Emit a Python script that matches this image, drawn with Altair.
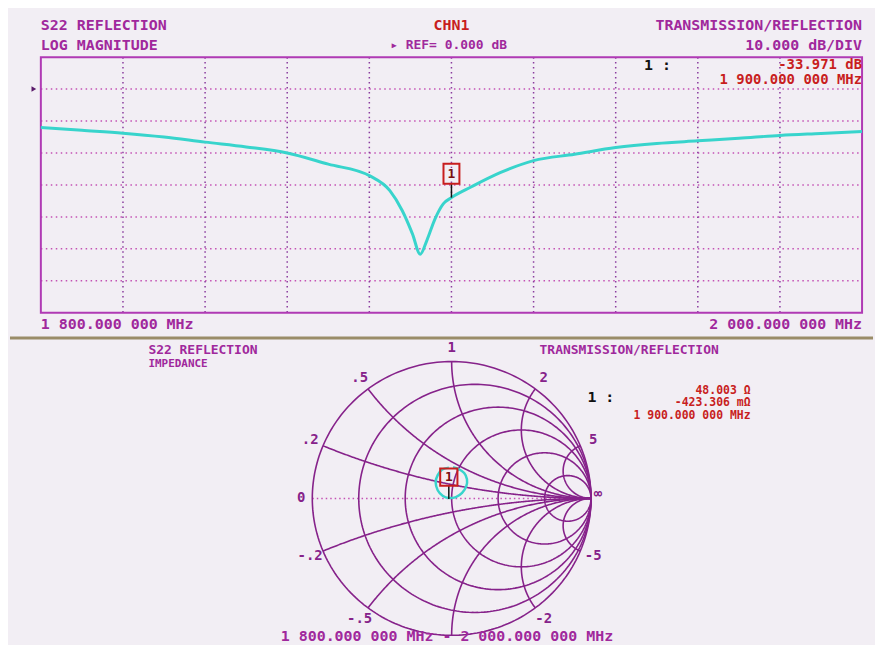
import altair as alt
import numpy as np
import pandas as pd

# ---------------- data ----------------
freq_mhz = [1800, 1810, 1820, 1830, 1840, 1850, 1860, 1870, 1880, 1885, 1888,
            1890.5, 1892.4, 1894, 1896, 1898, 1900, 1905, 1912, 1920, 1930,
            1940, 1950, 1960, 1970, 1980, 1990, 2000]
s22_db = [-12.0, -12.9, -13.8, -15.0, -16.6, -18.1, -20.0, -23.5, -27.1, -31.8,
          -38.0, -45.3, -51.7, -47.4, -40.6, -35.9, -33.971, -30.5, -26.1, -22.4,
          -20.4, -18.3, -17.0, -16.2, -15.4, -14.5, -13.9, -13.3]
marker_freq = [1900.0]
marker_db = [-33.971]

grid_freq = [1820, 1840, 1860, 1880, 1900, 1920, 1940, 1960, 1980]
grid_db = [0, -10, -20, -30, -40, -50, -60]
frame_freq = [1800, 2000]
frame_db = [10, -70]

# Smith chart trace (reflection coefficient, real / imag)
smith_re = [-0.02, -0.07, -0.10, -0.115, -0.10, -0.065, -0.02, 0.03, 0.075,
            0.105, 0.11, 0.09, 0.05, 0.01]
smith_im = [0.225, 0.21, 0.17, 0.12, 0.06, 0.02, 0.003, 0.01, 0.04,
            0.09, 0.14, 0.185, 0.215, 0.228]
marker_g_re = [-0.0204]
marker_g_im = [-0.0043]

r_circles = [0, 0.2, 0.5, 1, 2, 5]
x_arcs = [0.2, 0.5, 1, 2, 5, -0.2, -0.5, -1, -2, -5]
x_label_vals = [0.2, 0.5, 1, 2, 5, -0.2, -0.5, -2, -5]
x_label_txt = [".2", ".5", "1", "2", "5", "-.2", "-.5", "-2", "-5"]

# ---------------- styling ----------------
BG = "#f2eef4"
PURPLE = "#a0289c"
GRID_V = "#8a3c9e"
GRID_H = "#c452b4"
FRAME = "#b03ab4"
SMITH = "#86228a"
CYAN = "#38d4cc"
RED = "#c81e1e"
SEP = "#9a8c68"
FONT = "DejaVu Sans Mono"

W = 867
H1 = 326
H2 = 311

X1 = alt.Scale(domain=[1792.485, 2002.667], nice=False, zero=False)
Y1 = alt.Scale(domain=[-76.64, 24.92], nice=False, zero=False)
X2 = alt.Scale(domain=[-3.1693, 3.0236], nice=False, zero=False)
Y2 = alt.Scale(domain=[-1.0604, 1.2015], nice=False, zero=False)


def enc1(xf="x", yf="y", **kw):
    return dict(x=alt.X(f"{xf}:Q", scale=X1, axis=None),
                y=alt.Y(f"{yf}:Q", scale=Y1, axis=None), **kw)


def enc2(xf="x", yf="y", **kw):
    return dict(x=alt.X(f"{xf}:Q", scale=X2, axis=None),
                y=alt.Y(f"{yf}:Q", scale=Y2, axis=None), **kw)


def text1(rows, align, color, size=15, weight="bold"):
    df = pd.DataFrame(rows, columns=["x", "y", "t"])
    return alt.Chart(df).mark_text(align=align, baseline="middle", font=FONT,
                                   fontSize=size, fontWeight=weight, color=color).encode(
        **enc1(text="t:N"))


def text2(rows, align, color, size=15, weight="bold"):
    df = pd.DataFrame(rows, columns=["x", "y", "t"])
    return alt.Chart(df).mark_text(align=align, baseline="middle", font=FONT,
                                   fontSize=size, fontWeight=weight, color=color).encode(
        **enc2(text="t:N"))


# ---------------- top panel: log magnitude ----------------
frame = alt.Chart(pd.DataFrame({"x": [frame_freq[0]], "x2": [frame_freq[1]],
                                "y": [frame_db[0]], "y2": [frame_db[1]]})).mark_rect(
    fillOpacity=0, stroke=FRAME, strokeWidth=2).encode(
    **enc1(), x2="x2:Q", y2="y2:Q")

vgrid = alt.Chart(pd.DataFrame({"x": grid_freq, "y": frame_db[0], "y2": frame_db[1]})).mark_rule(
    color=GRID_V, strokeWidth=1.5, strokeDash=[1.5, 3.5]).encode(**enc1(), y2="y2:Q")
hgrid = alt.Chart(pd.DataFrame({"y": grid_db, "x": frame_freq[0], "x2": frame_freq[1]})).mark_rule(
    color=GRID_H, strokeWidth=1.5, strokeDash=[1.5, 3.5]).encode(**enc1(), x2="x2:Q")

trace = alt.Chart(pd.DataFrame({"x": freq_mhz, "y": s22_db})).mark_line(
    color=CYAN, strokeWidth=3, interpolate="monotone").encode(**enc1())

mk = pd.DataFrame({"x": marker_freq, "y": marker_db})
mk_rule = alt.Chart(mk).mark_rule(color="#111111", strokeWidth=1.5, y2Offset=-14).encode(
    **enc1(), y2="y:Q")
mk_box = alt.Chart(mk).mark_point(shape="M-1,-1.25L1,-1.25L1,1.25L-1,1.25Z", size=256,
                                  filled=False, stroke=RED, strokeWidth=2, opacity=1,
                                  yOffset=-24).encode(**enc1())
mk_txt = alt.Chart(mk.assign(t="1")).mark_text(font=FONT, fontSize=13, fontWeight="bold",
                                               color="#7a1010", yOffset=-24).encode(
    **enc1(text="t:N"))

ref_arrow = alt.Chart(pd.DataFrame({"x": [frame_freq[0]], "y": [0]})).mark_point(
    shape="triangle-right", filled=True, size=30, color="#5a1a6a", opacity=1,
    xOffset=-7).encode(**enc1())

hdr_left = text1([(1800, 19.94, "S22 REFLECTION"), (1800, 13.71, "LOG MAGNITUDE"),
                  (1800, -73.5, "1 800.000 000 MHz")], "left", PURPLE)
hdr_right = text1([(2000, 19.94, "TRANSMISSION/REFLECTION"), (2000, 13.71, "10.000 dB/DIV"),
                   (2000, -73.5, "2 000.000 000 MHz")], "right", PURPLE)
hdr_chn = text1([(1900, 19.94, "CHN1")], "center", RED)
hdr_ref = text1([(1899.3, 13.71, "▸ REF= 0.000 dB")], "center", PURPLE, size=13)
mk_lbl = text1([(1946.9, 7.48, "1 :")], "left", "#111111")
mk_vals = text1([(2000, 7.48, "-33.971 dB"), (2000, 2.8, "1 900.000 000 MHz")],
                "right", RED, size=14)

top = alt.layer(hgrid, vgrid, frame, trace, mk_rule, mk_box, mk_txt, ref_arrow,
                hdr_left, hdr_right, hdr_chn, hdr_ref, mk_lbl, mk_vals).properties(
    width=W, height=H1)

# ---------------- bottom panel: Smith chart ----------------
rows = []
gid = 0
th = np.linspace(0, 2 * np.pi, 241)
for r in r_circles:
    c = r / (1 + r)
    rad = 1 / (1 + r)
    for i, t in enumerate(th):
        rows.append((c + rad * np.cos(t), rad * np.sin(t), gid, i))
    gid += 1
rr = np.tan(np.linspace(0, np.pi / 2, 260)[:-1])
for xv in x_arcs:
    z = rr + 1j * xv
    g = (z - 1) / (z + 1)
    for i, gv in enumerate(g):
        rows.append((gv.real, gv.imag, gid, i))
    rows.append((1.0, 0.0, gid, len(g)))
    gid += 1
grid_df = pd.DataFrame(rows, columns=["x", "y", "g", "o"])

smith_grid = alt.Chart(grid_df).mark_line(color=SMITH, strokeWidth=1.6).encode(
    **enc2(), detail="g:N", order="o:Q")

real_axis = alt.Chart(pd.DataFrame({"x": [-1.0], "x2": [1.0], "y": [0.0]})).mark_rule(
    color=GRID_H, strokeWidth=1.5, strokeDash=[1.5, 3]).encode(**enc2(), x2="x2:Q")

smith_trace = alt.Chart(pd.DataFrame({"x": smith_re, "y": smith_im,
                                      "o": list(range(len(smith_re)))})).mark_line(
    color=CYAN, strokeWidth=2.5, interpolate="cardinal").encode(**enc2(), order="o:Q")

gm = pd.DataFrame({"x": marker_g_re, "y": marker_g_im})
gm_rule = alt.Chart(gm).mark_rule(color="#111111", strokeWidth=1.5, y2Offset=-14).encode(
    **enc2(), y2="y:Q")
gm_box = alt.Chart(gm).mark_point(shape="M-1,-1L1,-1L1,1L-1,1Z", size=300,
                                  filled=False, stroke=RED, strokeWidth=2, opacity=1,
                                  yOffset=-22).encode(**enc2())
gm_txt = alt.Chart(gm.assign(t="1")).mark_text(font=FONT, fontSize=13, fontWeight="bold",
                                               color="#7a1010", yOffset=-22).encode(
    **enc2(text="t:N"))

lab_rows = []
for xv, tx in zip(x_label_vals, x_label_txt):
    g = (1j * xv - 1) / (1j * xv + 1)
    lab_rows.append((1.1 * g.real, 1.1 * g.imag, tx))
lab_rows.append((-1.08, 0.0, "0"))
lab_rows.append((1.05, 0.03, "∞"))
smith_labels = text2(lab_rows, "center", SMITH, size=14)

s_left = text2([(-2.176, 1.085, "S22 REFLECTION")], "left", PURPLE, size=13)
s_left2 = text2([(-2.176, 0.98, "IMPEDANCE")], "left", PURPLE, size=11)
s_right = text2([(0.631, 1.085, "TRANSMISSION/REFLECTION")], "left", PURPLE, size=13)
s_mk = text2([(0.974, 0.739, "1 :")], "left", "#111111")
s_vals = text2([(2.145, 0.785, "48.003 Ω"), (2.145, 0.695, "-423.306 mΩ"),
                (2.145, 0.605, "1 900.000 000 MHz")], "right", RED, size=11.5)
s_bottom = alt.Chart(pd.DataFrame({"x": [-0.034], "y": [-1.0604],
                                   "t": ["1 800.000 000 MHz - 2 000.000 000 MHz"]})).mark_text(
    align="center", baseline="bottom", font=FONT, fontSize=15, fontWeight="bold",
    color=PURPLE).encode(**enc2(text="t:N"))

sep = alt.Chart(pd.DataFrame({"x": [-3.1693], "x2": [3.0236], "y": [1.1724]})).mark_rule(
    color=SEP, strokeWidth=3).encode(**enc2(), x2="x2:Q")

bottom = alt.layer(sep, real_axis, smith_grid, smith_trace, gm_rule, gm_box, gm_txt,
                   smith_labels, s_left, s_left2, s_right, s_mk, s_vals, s_bottom).properties(
    width=W, height=H2)

chart = alt.vconcat(top, bottom, spacing=0, bounds="flush").properties(
    padding=0, background=BG).configure_view(strokeWidth=0)

chart.save("out.html", embed_options={"renderer": "svg", "actions": False})
